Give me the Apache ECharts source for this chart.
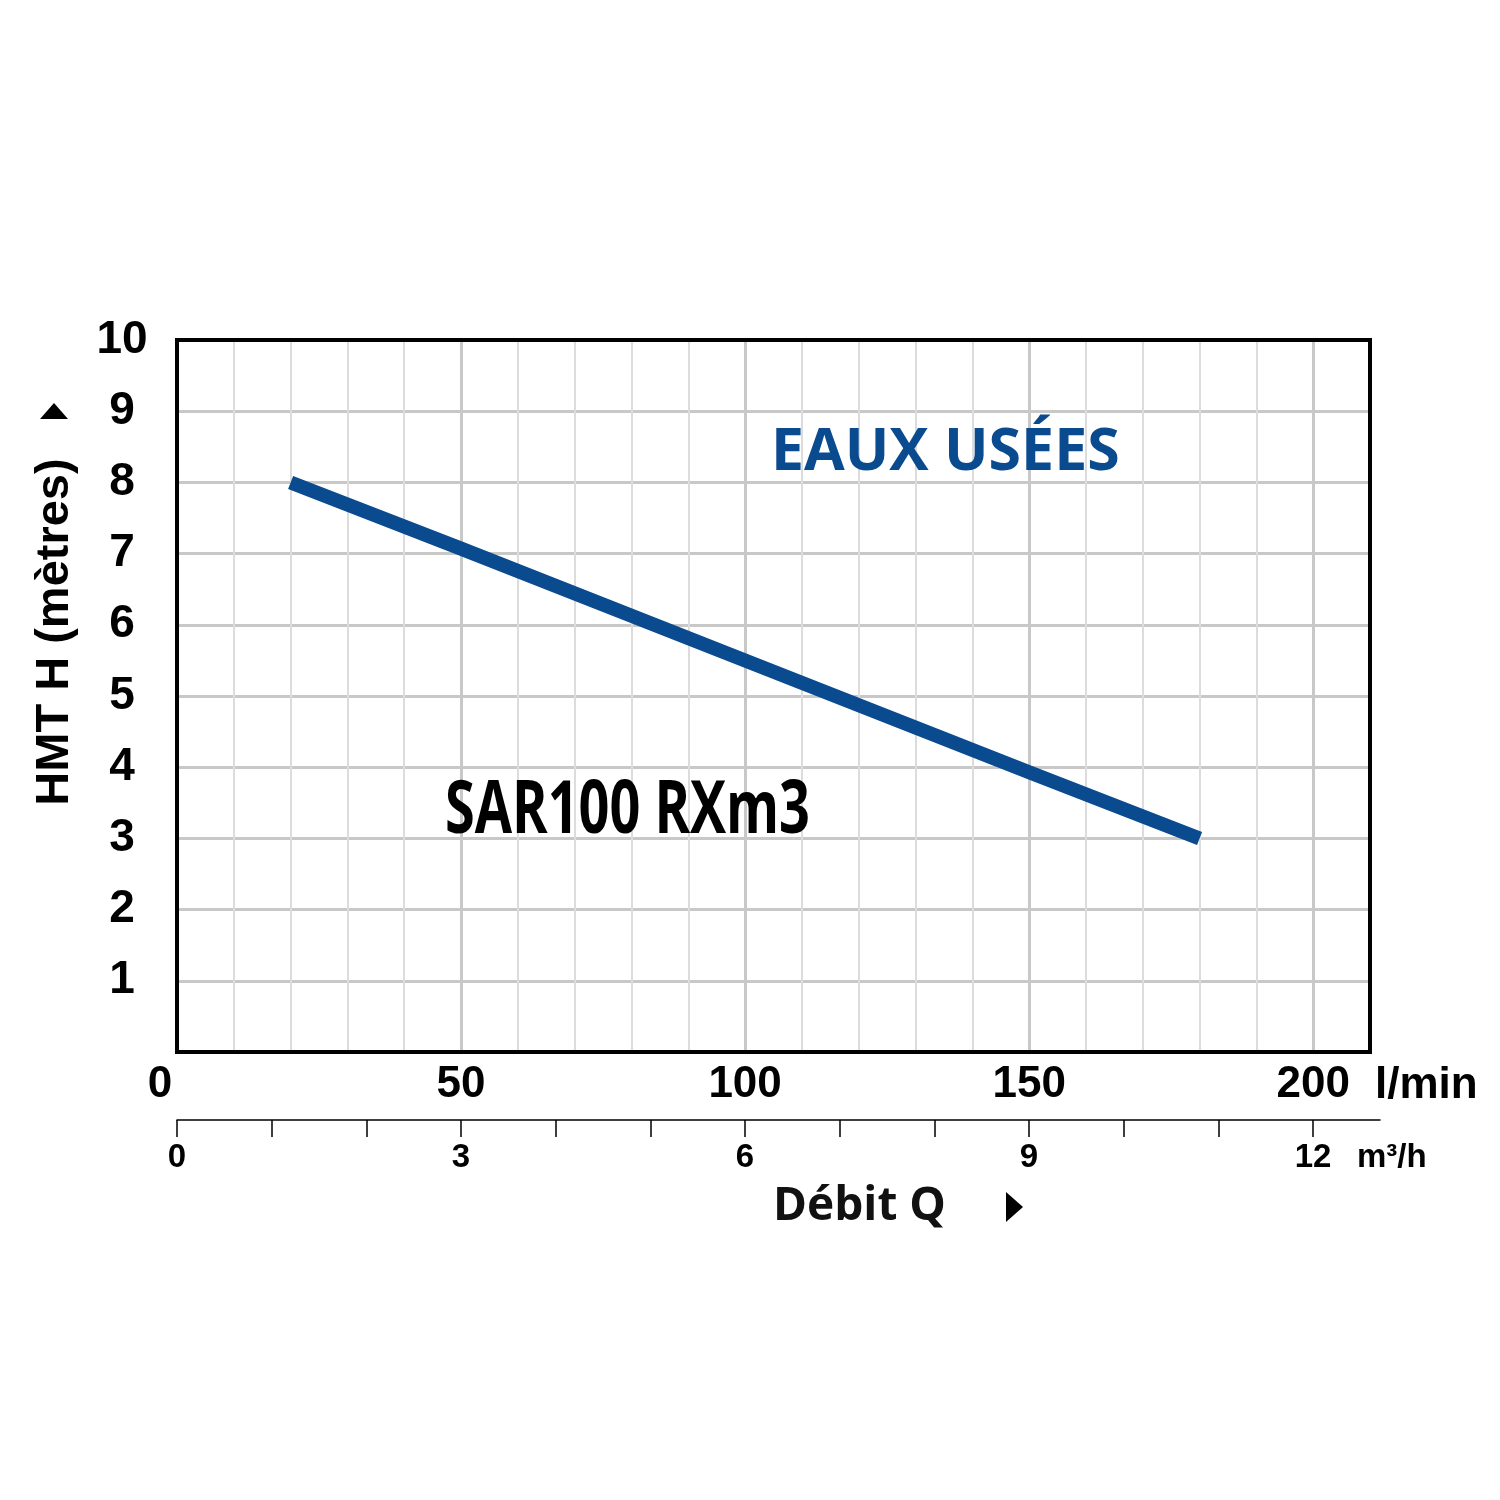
<!DOCTYPE html>
<html>
<head>
<meta charset="utf-8">
<script src="https://cdn.jsdelivr.net/npm/echarts@6/dist/echarts.min.js"></script>
<style>html,body{margin:0;padding:0;background:#fff}#c{width:1500px;height:1500px}</style>
</head>
<body>
<div id="c"></div>
<script>
// ---- data ----
const qLmin = [20, 50, 100, 150, 180];          // Débit Q (l/min)
const hMeters = [8.0, 7.07, 5.5, 3.93, 3.0];    // HMT H (mètres)
const xTickLabels = [0, 50, 100, 150, 200];
const yTickLabels = [1, 2, 3, 4, 5, 6, 7, 8, 9, 10];
const m3hTicks = [0, 1, 2, 3, 4, 5, 6, 7, 8, 9, 10, 11, 12];
const m3hLabels = [0, 3, 6, 9, 12];

const AR = '"Liberation Sans", Arial, sans-serif';
const OS = '"Open Sans", "Noto Sans", sans-serif';
const BLUE = '#0a4a8f';

const chart = echarts.init(document.getElementById('c'), null, {renderer: 'canvas'});
chart.setOption({
  animation: false,
  backgroundColor: '#fff',
  grid: [
    {left: 177, top: 340, width: 1193, height: 712, show: true, borderColor: '#000', borderWidth: 4, z: 10, backgroundColor: 'transparent'},
    {left: 177, top: 1119, width: 1203, height: 1}
  ],
  xAxis: [
    { // minor vertical grid
      type: 'value', gridIndex: 0, min: 0, max: 210, interval: 10, position: 'bottom',
      axisLine: {show: false}, axisTick: {show: false}, axisLabel: {show: false},
      splitLine: {show: true, showMinLine: false, showMaxLine: false, lineStyle: {color: '#dcdcdc', width: 2}}
    },
    { // major vertical grid + labels
      type: 'value', gridIndex: 0, min: 0, max: 210, interval: 50, position: 'bottom',
      axisLine: {show: false}, axisTick: {show: false},
      axisLabel: {
        show: true, customValues: xTickLabels, margin: 11,
        fontSize: 44, fontWeight: 'bold', fontFamily: AR, color: '#000',
        formatter: v => v === 0 ? '{z|0}' : String(v),
        rich: {z: {padding: [0, 34, 0, 0], fontSize: 44, fontWeight: 'bold', fontFamily: AR, color: '#000'}}
      },
      splitLine: {show: true, showMinLine: false, showMaxLine: false, lineStyle: {color: '#c8c8c8', width: 3}}
    },
    { // m3/h axis
      type: 'value', gridIndex: 1, min: 0, max: 12.707, position: 'bottom',
      axisLine: {show: true, lineStyle: {color: '#000', width: 1.5}},
      axisTick: {show: true, customValues: m3hTicks, length: 17, inside: false, lineStyle: {color: '#000', width: 1.5}},
      axisLabel: {show: true, customValues: m3hLabels, margin: 21, fontSize: 33, fontWeight: 'bold', fontFamily: AR, color: '#000'},
      splitLine: {show: false}
    }
  ],
  yAxis: [
    {
      type: 'value', gridIndex: 0, min: 0, max: 10, interval: 1,
      axisLine: {show: false}, axisTick: {show: false},
      axisLabel: {
        show: true, customValues: yTickLabels, margin: 55, align: 'center',
        padding: [0, 0, 18, 0],
        fontSize: 46, fontWeight: 'bold', fontFamily: AR, color: '#000'
      },
      splitLine: {show: true, showMinLine: false, showMaxLine: false, lineStyle: {color: '#c8c8c8', width: 3}}
    },
    {type: 'value', gridIndex: 1, show: false, min: 0, max: 1}
  ],
  series: [{
    type: 'line', xAxisIndex: 0, yAxisIndex: 0,
    data: qLmin.map((q, i) => [q, hMeters[i]]),
    showSymbol: false, symbol: 'none', smooth: false, z: 5,
    lineStyle: {color: BLUE, width: 14, cap: 'butt'}
  }],
  graphic: [
    {type: 'text', x: 1375, y: 1086, style: {text: 'l/min', fontSize: 44, fontWeight: 'bold', fontFamily: AR, fill: '#000', align: 'left', verticalAlign: 'middle'}},
    {type: 'text', x: 1357, y: 1158, style: {text: 'm³/h', fontSize: 33, fontWeight: 'bold', fontFamily: AR, fill: '#000', align: 'left', verticalAlign: 'middle'}},
    {type: 'text', x: 773, y: 1207, style: {text: 'Débit Q', fontSize: 46, fontWeight: 'bold', fontFamily: OS, fill: '#111', align: 'left', verticalAlign: 'middle'}},
    {type: 'polygon', shape: {points: [[1006, 1192], [1023, 1207], [1006, 1222]]}, style: {fill: '#000'}},
    {type: 'text', x: 55, y: 632, rotation: Math.PI / 2, style: {text: 'HMT H (mètres)', fontSize: 47, fontWeight: 'bold', fontFamily: AR, fill: '#000', align: 'center', verticalAlign: 'middle'}},
    {type: 'polygon', shape: {points: [[40, 419], [54, 403], [68, 419]]}, style: {fill: '#000'}},
    {type: 'text', x: 771, y: 453, z: 20, style: {text: 'EAUX USÉES', fontSize: 59, fontWeight: 'bold', fontFamily: OS, fill: BLUE, align: 'left', verticalAlign: 'middle'}},
    {type: 'text', x: 445, y: 812, scaleX: 0.73, z: 20, style: {text: 'SAR100 RXm3', fontSize: 74, fontWeight: 'bold', fontFamily: OS, fill: '#000', align: 'left', verticalAlign: 'middle'}}
  ]
});
</script>
</body>
</html>
